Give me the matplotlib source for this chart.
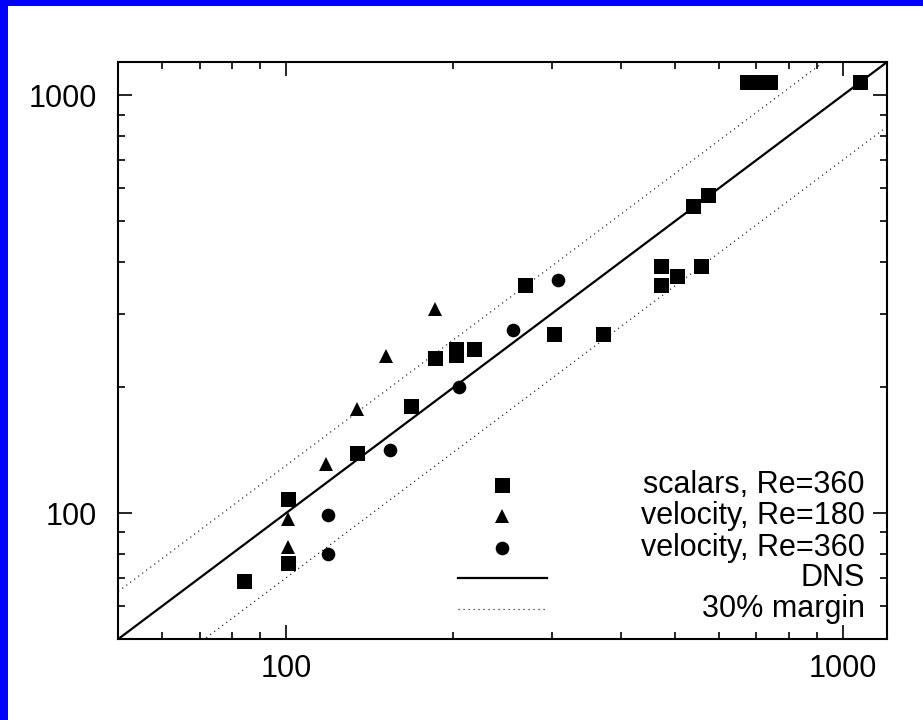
import numpy as np
import matplotlib
matplotlib.use("Agg")
import matplotlib.pyplot as plt
from matplotlib.patches import Rectangle
from matplotlib.ticker import LogLocator, NullFormatter

plt.rcParams['font.family'] = ['Liberation Sans', 'DejaVu Sans']

# scalars, Re=360 (squares)
scal_x = [84, 101, 101, 134, 168, 185, 202, 202, 218, 269, 303, 371,
          472, 472, 504, 557, 538, 573, 674, 707, 740, 1074]
scal_y = [69, 76, 108, 139, 181, 235, 247, 239, 247, 351, 268, 268,
          390, 352, 369, 390, 545, 576, 1079, 1079, 1079, 1079]

# velocity, Re=180 (triangles)
v180_x = [101, 101, 118, 134, 151, 185]
v180_y = [83, 97, 131, 178, 238, 308]

# velocity, Re=360 (circles)
v360_x = [119, 119, 154, 205, 256, 308]
v360_y = [99, 80, 142, 201, 274, 362]

# DNS reference and 30% margin
ref_x = np.array([50, 1200])
margin = 0.3

fig = plt.figure(figsize=(9.23, 7.2), dpi=100)
fig.patch.set_facecolor('#0000ff')
fig.patches.append(Rectangle((8 / 923, 0), 1, 1 - 6 / 720, transform=fig.transFigure,
                             facecolor='white', edgecolor='none', zorder=-10))

ax = fig.add_axes([118.3 / 923, 1 - 639 / 720, 768.4 / 923, 576.7 / 720])
ax.set_xscale('log')
ax.set_yscale('log')
ax.set_xlim(50, 1200)
ax.set_ylim(50, 1200)

dot = dict(color='black', lw=0.8, ls=(0, (1, 3.5)))
ax.plot(ref_x, ref_x, color='black', lw=1.6)
ax.plot(ref_x, ref_x * (1 + margin), **dot)
ax.plot(ref_x, ref_x * (1 - margin), **dot)

ax.plot(scal_x, scal_y, 's', color='black', ms=10.8, mew=0)
ax.plot(v180_x, v180_y, '^', color='black', ms=9.5, mew=0)
ax.plot(v360_x, v360_y, 'o', color='black', ms=9.8, mew=0)

# gnuplot-style key, lower right
rows = [0.267, 0.213, 0.158, 0.106, 0.052]
labels = ['scalars, Re=360', 'velocity, Re=180', 'velocity, Re=360', 'DNS', '30% margin']
tr = ax.transAxes
ax.plot([0.4994], [rows[0]], 's', color='black', ms=10.8, mew=0, transform=tr)
ax.plot([0.4994], [rows[1]], '^', color='black', ms=9.5, mew=0, transform=tr)
ax.plot([0.4994], [rows[2]], 'o', color='black', ms=9.8, mew=0, transform=tr)
ax.plot([0.442, 0.558], [rows[3]] * 2, color='black', lw=1.6, transform=tr)
ax.plot([0.442, 0.558], [rows[4]] * 2, transform=tr, **dot)
for r, lab in zip(rows, labels):
    ax.text(0.9717, r, lab, transform=tr, ha='right', va='center', fontsize=22)

ax.set_xticks([100, 1000])
ax.set_yticks([100, 1000])
ax.set_xticklabels(['100', '1000'])
ax.set_yticklabels(['100', '1000'])
for a in (ax.xaxis, ax.yaxis):
    a.set_minor_locator(LogLocator(base=10, subs=np.arange(2, 10)))
    a.set_minor_formatter(NullFormatter())
ax.tick_params(which='both', direction='in', top=True, right=True, width=1.2, labelsize=22)
ax.tick_params(which='major', length=10)
ax.tick_params(axis='y', which='major', pad=15.5)
ax.tick_params(axis='x', which='major', pad=11)
ax.tick_params(which='minor', length=5)
for s in ax.spines.values():
    s.set_linewidth(1.5)

fig.savefig('out.png', dpi=100)
